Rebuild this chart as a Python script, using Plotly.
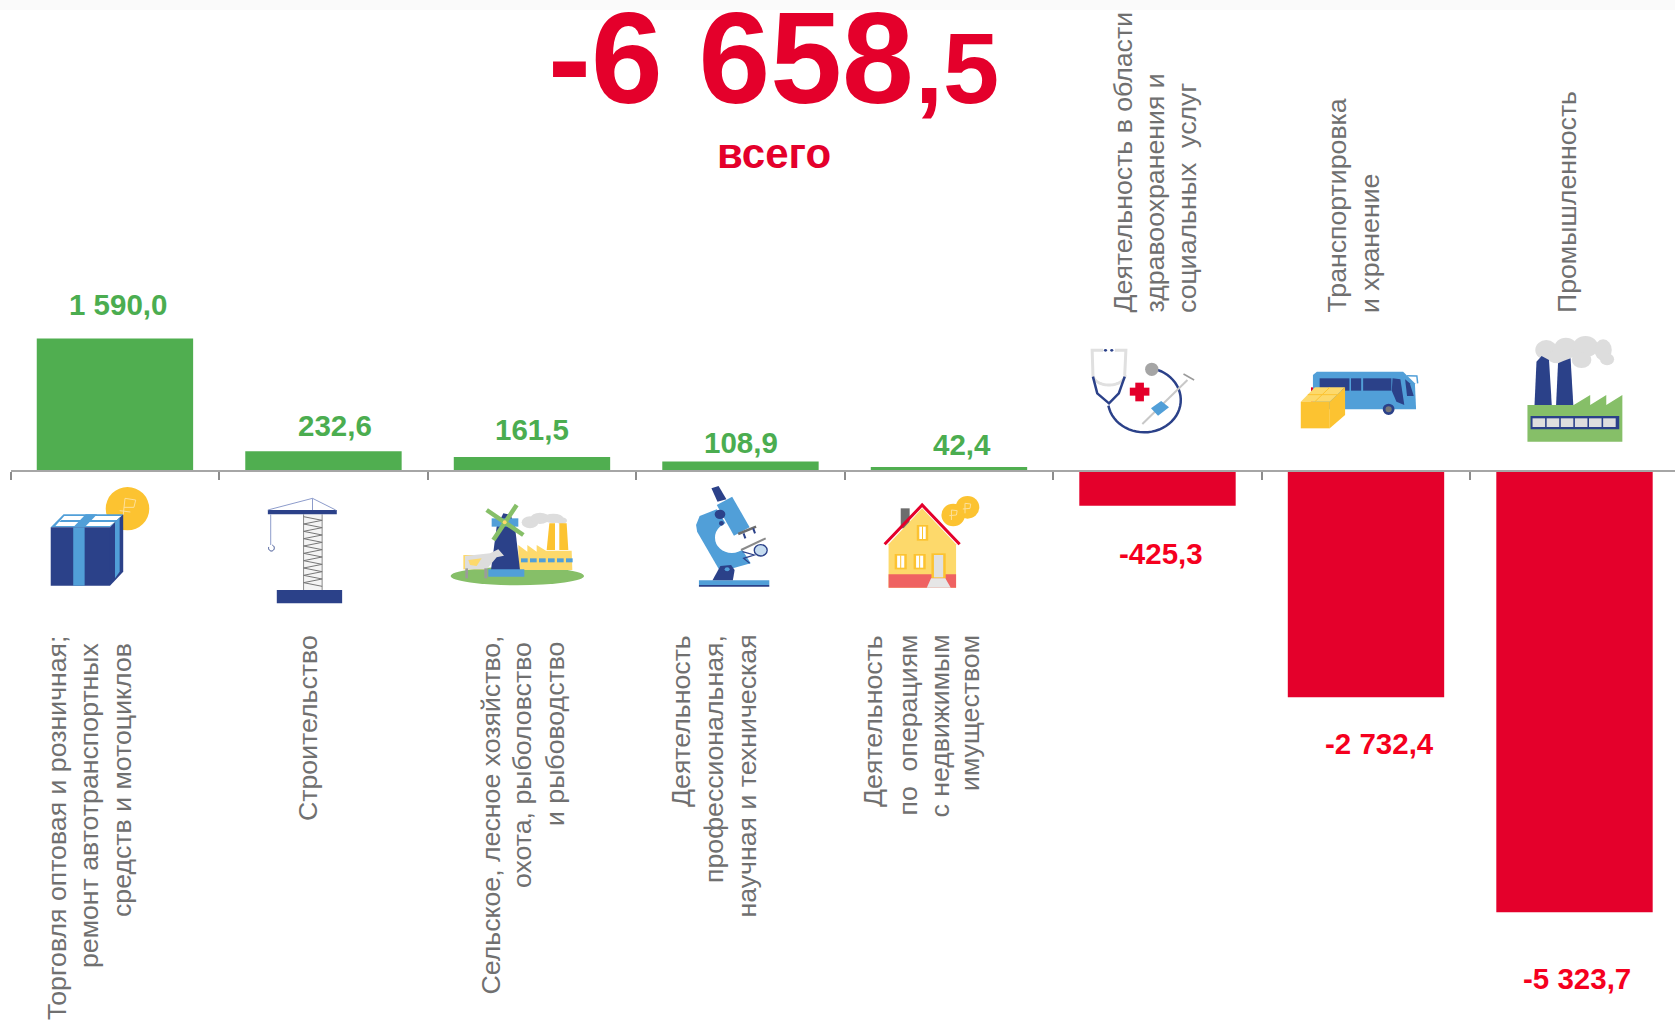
import math
import plotly.graph_objects as go

W, H = 1675, 1021

# ---------- data ----------
categories = [
    "Торговля оптовая и розничная; ремонт автотранспортных средств и мотоциклов",
    "Строительство",
    "Сельское, лесное хозяйство, охота, рыболовство и рыбоводство",
    "Деятельность профессиональная, научная и техническая",
    "Деятельность по операциям с недвижимым имуществом",
    "Деятельность в области здравоохранения и социальных услуг",
    "Транспортировка и хранение",
    "Промышленность",
]
values = [1590.0, 232.6, 161.5, 108.9, 42.4, -425.3, -2732.4, -5323.7]
value_labels = ["1 590,0", "232,6", "161,5", "108,9", "42,4", "-425,3", "-2 732,4", "-5 323,7"]
label_lines = [
    ["Торговля оптовая и розничная;", "ремонт автотранспортных", "средств и мотоциклов"],
    ["Строительство"],
    ["Сельское, лесное хозяйство,", "охота, рыболовство", "и рыбоводство"],
    ["Деятельность", "профессиональная,", "научная и техническая"],
    ["Деятельность", "по  операциям", "с недвижимым", "имуществом"],
    ["Деятельность в области", "здравоохранения и", "социальных  услуг"],
    ["Транспортировка", "и хранение"],
    ["Промышленность"],
]
total_main = "-6 658"
total_dec = ",5"
total_caption = "всего"

# ---------- label placement (page pixels) ----------
value_label_pos = [(117.5, 304), (335, 425), (532, 429), (741, 442), (962, 444),
                   (1161, 553), (1379, 743.5), (1576.5, 978.5)]
line_x = [[57, 89, 122], [308], [490, 522, 555], [681, 714, 746],
          [873, 907, 939, 970], [1122, 1154, 1187], [1336.5, 1369.5], [1567]]
line_end = [[635, 641, 642], [634], [635, 641, 641], [634, 634, 634],
            [634, 634, 634, 634], [314, 314, 314], [314, 314], [314]]

GREEN, RED, LABELRED, GREENTXT = "#50ae50", "#e4002b", "#f5001e", "#4bad50"
GREY = "#707070"
NAVY, BLUE, GOLD, PALE, LGREEN, SMOKE = "#2b4189", "#519fd8", "#fcc331", "#fdd96b", "#86bf68", "#dddddd"
FONT = "Liberation Sans"

shapes, annos = [], []


def px(x):
    return x / W


def py(y):
    return 1 - y / H


def T(ox, oy, sx, sy):
    return lambda X, Y: (ox + X / sx, oy + Y / sy)


def poly(t, pts, color, close=True, width=0):
    d = ""
    for i, (X, Y) in enumerate(pts):
        x, y = t(X, Y)
        d += f"{'M' if i == 0 else 'L'} {px(x):.5f} {py(y):.5f} "
    if close:
        d += "Z"
    s = dict(type="path", xref="paper", yref="paper", path=d, layer="above")
    if close:
        s.update(fillcolor=color, line=dict(width=0))
    else:
        s.update(line=dict(color=color, width=width))
    shapes.append(s)


def rect(t, a, b, c, d, color):
    poly(t, [(a, b), (c, b), (c, d), (a, d)], color)


def line(t, pts, color, width=1.5):
    poly(t, pts, color, close=False, width=width)


def ell(t, cx, cy, rx, ry, color):
    x0, y0 = t(cx - rx, cy - ry)
    x1, y1 = t(cx + rx, cy + ry)
    shapes.append(dict(type="circle", xref="paper", yref="paper", x0=px(x0), x1=px(x1),
                       y0=py(y0), y1=py(y1), fillcolor=color, line=dict(width=0), layer="above"))


def arc(t, cx, cy, rx, ry, a0, a1, color, width=1.5, n=40):
    pts = [(cx + rx * math.cos(math.radians(a0 + (a1 - a0) * i / n)),
            cy + ry * math.sin(math.radians(a0 + (a1 - a0) * i / n))) for i in range(n + 1)]
    line(t, pts, color, width)


# ---------- icons ----------
# gift box with coin
t = T(0, 270, 2.8, 3)
ell(t, 357, 716, 61, 65, GOLD)
line(t, [(345, 735), (350, 685), (380, 690), (375, 712), (347, 712)], "#fde09a", 1)
line(t, [(335, 722), (365, 726)], "#fde09a", 1)
poly(t, [(142, 772), (178, 733), (345, 733), (308, 772)], BLUE)
poly(t, [(155, 768), (180, 738), (340, 738), (308, 768)], "#ffffff")
poly(t, [(205, 772), (240, 733), (272, 733), (237, 772)], BLUE)
poly(t, [(165, 756), (172, 750), (330, 750), (323, 756)], BLUE)
rect(t, 142, 772, 308, 947, NAVY)
poly(t, [(308, 772), (345, 733), (345, 905), (308, 947)], NAVY)
poly(t, [(322, 757), (335, 742), (335, 905), (322, 925)], BLUE)
rect(t, 205, 772, 237, 947, BLUE)

# tower crane
rect(t, 850, 733, 902, 960, "#f4f4f4")
line(t, [(850, 733), (850, 960)], "#8a8a8a", 1)
line(t, [(902, 733), (902, 960)], "#8a8a8a", 1)
zig = [(850 if i % 2 == 0 else 902, 740 + i * 11) for i in range(20)]
line(t, zig, "#777777", 1)
rect(t, 750, 720, 943, 733, NAVY)
rect(t, 775, 960, 958, 1000, NAVY)
line(t, [(750, 720), (875, 685), (940, 720)], "#8d9ccb", 1)
line(t, [(875, 685), (875, 720)], "#8d9ccb", 1)
line(t, [(758, 733), (758, 825)], "#8d9ccb", 1)
arc(t, 760, 834, 8, 9, -70, 200, NAVY, 1)

# windmill, cow and factory
t = T(440, 490, 3, 3)
for c in [(270, 97, 25, 18), (300, 85, 28, 17), (340, 85, 30, 14), (365, 92, 16, 10)]:
    ell(t, *c, SMOKE)
poly(t, [(320, 180), (328, 100), (345, 100), (345, 180)], GOLD)
poly(t, [(358, 180), (358, 100), (380, 100), (385, 180)], GOLD)
ell(t, 232, 258, 200, 28, LGREEN)
poly(t, [(235, 240), (235, 165), (262, 185), (262, 165), (290, 185), (290, 165), (318, 182),
         (395, 182), (397, 240)], PALE)
for i in range(6):
    rect(t, 243 + 27 * i, 205, 263 + 27 * i, 217, BLUE)
poly(t, [(153, 240), (170, 110), (190, 70), (212, 75), (225, 110), (240, 240)], NAVY)
rect(t, 155, 85, 235, 110, BLUE)
rect(t, 145, 238, 253, 260, BLUE)
line(t, [(140, 60), (250, 135)], LGREEN, 4.5)
line(t, [(230, 45), (160, 150)], LGREEN, 4.5)
ell(t, 194, 97, 6, 6, PALE)
rect(t, 70, 195, 140, 238, PALE)
poly(t, [(75, 198), (150, 190), (175, 178), (192, 197), (170, 202), (140, 238), (75, 238)], SMOKE)
rect(t, 76, 235, 84, 265, "#9b9b9b")
rect(t, 133, 235, 142, 265, "#9b9b9b")
poly(t, [(85, 210), (125, 205), (110, 228), (90, 225)], PALE)

# microscope
t = T(540, 270, 2.8, 3)
rect(t, 445, 931, 642, 945, BLUE)
rect(t, 445, 945, 642, 950, NAVY)
poly(t, [(437, 765), (447, 738), (495, 718), (590, 880), (505, 905), (440, 785)], BLUE)
ell(t, 537, 803, 47, 46, "#ffffff")
poly(t, [(483, 931), (505, 888), (535, 885), (545, 900), (540, 931)], NAVY)
ell(t, 524, 898, 7, 6, BLUE)
poly(t, [(495, 705), (538, 680), (587, 772), (543, 797)], BLUE)
poly(t, [(480, 655), (500, 648), (522, 688), (497, 695)], NAVY)
line(t, [(555, 792), (605, 770)], "#6d6d6d", 2.5)
line(t, [(570, 790), (575, 805)], NAVY, 2)
line(t, [(597, 775), (602, 790)], NAVY, 2)
line(t, [(563, 840), (632, 805)], "#8a8a8a", 2)
line(t, [(567, 845), (600, 855), (570, 865), (587, 880)], NAVY, 1.2)
ell(t, 618, 841, 20, 19, NAVY)
ell(t, 618, 841, 16, 15, "#c6dcf0")
ell(t, 504, 733, 15, 14, NAVY)
ell(t, 508, 760, 7, 7, NAVY)

# house with coins
rect(t, 1010, 715, 1035, 775, "#6d6d6d")
poly(t, [(976, 823), (1070, 715), (1165, 823), (1165, 953), (976, 953)], PALE)
rect(t, 976, 913, 1165, 953, "#ef6262")
line(t, [(965, 823), (1070, 705), (1175, 823)], "#e4002b", 3)
for a, b, c, d in [(1055, 765, 1087, 812), (993, 852, 1027, 898), (1046, 852, 1080, 898)]:
    rect(t, a, b, c, d, GOLD)
    rect(t, a + 7, b + 5, c - 7, d - 5, "#ffffff")
    line(t, [((a + c) / 2, b + 4), ((a + c) / 2, d - 4)], GOLD, 1)
rect(t, 1096, 850, 1136, 925, GOLD)
rect(t, 1103, 855, 1129, 922, "#e0e0e0")
poly(t, [(1095, 925), (1135, 925), (1150, 953), (1083, 953)], "#e6e6e6")
ell(t, 1197, 712, 33, 34, GOLD)
ell(t, 1157, 735, 33, 34, GOLD)
line(t, [(1152, 750), (1152, 720), (1168, 722), (1166, 735), (1146, 737)], "#fde09a", 1)
line(t, [(1190, 730), (1190, 700), (1206, 702), (1204, 715), (1184, 717)], "#fde09a", 1)

# stethoscope with syringe
t = T(1060, 0, 2.55, 3)
line(t, [(110, 1051), (82, 1051), (84, 1125)], "#e0e0e0", 3)
line(t, [(140, 1051), (168, 1051), (165, 1125)], "#e0e0e0", 3)
arc(t, 125, 1125, 41, 30, 180, 0, "#e0e0e0", 3)
ell(t, 116, 1051, 4, 4, NAVY)
ell(t, 132, 1051, 4, 4, NAVY)
line(t, [(84, 1130), (95, 1180), (125, 1210), (150, 1180), (165, 1130)], NAVY, 2.5)
arc(t, 215, 1200, 93, 97, 170, -75, NAVY, 2.5)
ell(t, 234, 1108, 17, 20, "#a5a5a5")
rect(t, 178, 1163, 228, 1187, RED)
rect(t, 192, 1148, 214, 1204, RED)
line(t, [(210, 1272), (325, 1140)], "#c8c8c8", 2)
line(t, [(315, 1122), (342, 1140)], "#9a9a9a", 1.5)
poly(t, [(232, 1225), (258, 1203), (278, 1222), (250, 1247)], BLUE)

# bus and parcel
rect(t, 640, 1162, 650, 1205, RED)
poly(t, [(645, 1125), (655, 1115), (875, 1115), (905, 1150), (908, 1228), (645, 1228)], BLUE)
rect(t, 662, 1135, 738, 1172, NAVY)
rect(t, 742, 1135, 768, 1172, NAVY)
rect(t, 773, 1135, 845, 1172, NAVY)
poly(t, [(848, 1135), (868, 1138), (878, 1215), (858, 1205), (846, 1172)], NAVY)
poly(t, [(880, 1138), (892, 1150), (902, 1188), (885, 1188)], NAVY)
line(t, [(885, 1127), (910, 1128), (912, 1150)], BLUE, 1.5)
ell(t, 838, 1228, 15, 17, NAVY)
ell(t, 838, 1228, 8, 9, "#777777")
poly(t, [(614, 1205), (650, 1162), (727, 1162), (688, 1205)], PALE)
rect(t, 614, 1205, 688, 1285, GOLD)
poly(t, [(688, 1205), (727, 1162), (727, 1245), (688, 1285)], GOLD)
line(t, [(632, 1184), (708, 1184)], GOLD, 1)
line(t, [(650, 1205), (688, 1162)], GOLD, 1)

# industrial plant
for c in [(1240, 1050, 28, 30), (1290, 1045, 30, 32), (1340, 1040, 32, 32), (1385, 1050, 22, 32),
          (1395, 1078, 18, 18), (1330, 1080, 25, 24), (1270, 1070, 28, 20)]:
    ell(t, *c, SMOKE)
poly(t, [(1210, 1215), (1215, 1085), (1228, 1068), (1247, 1080), (1254, 1215)], NAVY)
poly(t, [(1265, 1215), (1270, 1090), (1285, 1082), (1302, 1075), (1309, 1215)], NAVY)
poly(t, [(1192, 1325), (1192, 1215), (1310, 1215), (1352, 1185), (1352, 1215), (1393, 1185),
         (1393, 1215), (1434, 1185), (1434, 1325)], LGREEN)
rect(t, 1200, 1248, 1426, 1288, NAVY)
for i in range(6):
    rect(t, 1205 + 36 * i, 1255, 1237 + 36 * i, 1281, "#dedede")

# faint band along the top edge of the page
shapes.append(dict(type="rect", xref="paper", yref="paper", x0=0, x1=1, y0=py(10), y1=1,
                   fillcolor="#fafafa", line=dict(width=0), layer="below"))

# ---------- texts ----------
for v, txt, (x, y) in zip(values, value_labels, value_label_pos):
    annos.append(dict(xref="paper", yref="paper", x=px(x), y=py(y), text=txt, showarrow=False,
                      xanchor="center", yanchor="middle",
                      font=dict(family=FONT, size=29.5, color=GREENTXT if v > 0 else LABELRED,
                                weight="bold")))

for lines, xs, ends, v in zip(label_lines, line_x, line_end, values):
    for txt, x, e in zip(lines, xs, ends):
        annos.append(dict(xref="paper", yref="paper", x=px(x), y=py(e), text=txt, showarrow=False,
                          textangle=-90, xanchor="center",
                          yanchor="top" if v > 0 else "bottom", borderpad=0,
                          font=dict(family=FONT, size=26.7, color=GREY)))

annos.append(dict(xref="paper", yref="paper", x=px(546), y=py(58.4), text=total_main, showarrow=False,
                  xanchor="left", yanchor="middle",
                  font=dict(family=FONT, size=129, color=RED, weight="bold")))
annos.append(dict(xref="paper", yref="paper", x=px(913), y=py(68), text=total_dec, showarrow=False,
                  xanchor="left", yanchor="middle",
                  font=dict(family=FONT, size=101, color=RED, weight="bold")))
annos.append(dict(xref="paper", yref="paper", x=px(774), y=py(154), text=total_caption, showarrow=False,
                  xanchor="center", yanchor="middle",
                  font=dict(family=FONT, size=42, color=RED, weight="bold")))

# ---------- figure ----------
fig = go.Figure(go.Bar(
    x=categories, y=values, width=0.75,
    marker=dict(color=[GREEN if v > 0 else RED for v in values], line=dict(width=0)),
    hoverinfo="skip",
))
fig.update_layout(
    width=W, height=H, margin=dict(l=0, r=0, t=0, b=0), paper_bgcolor="#ffffff", plot_bgcolor="#ffffff",
    showlegend=False, shapes=shapes, annotations=annos, font=dict(family=FONT),
    xaxis=dict(type="category", domain=[10.7 / W, 1], range=[-0.5, 7.482], showgrid=False,
               zeroline=False, showline=True, linecolor="#a6a6a6", linewidth=2, ticks="outside",
               ticklen=8, tickcolor="#8c8c8c", tickwidth=1.5, tickson="boundaries",
               showticklabels=False, anchor="free", position=(H - 470.5) / H),
    yaxis=dict(range=[-6633, 5669], visible=False, showgrid=False, zeroline=False),
)
fig.write_html("out.html", config=dict(displayModeBar=False),
               post_script="document.body.style.margin='0';document.body.style.overflow='hidden';")
